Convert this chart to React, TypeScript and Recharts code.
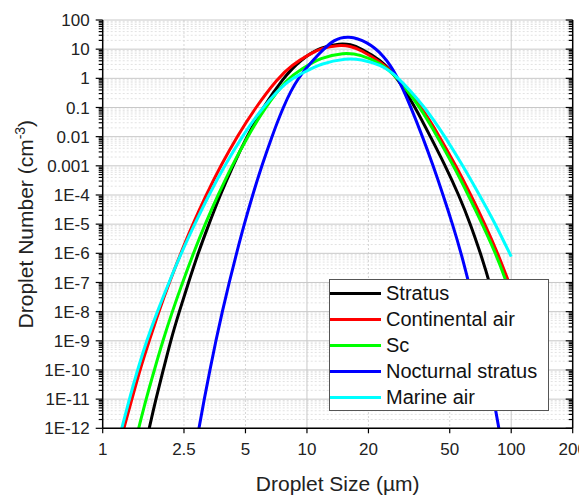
import { LineChart, Line, XAxis, YAxis, CartesianGrid, Legend } from 'recharts';

const FONT = '"Liberation Sans", Arial, sans-serif';

// axis ticks
const xTicks = [1, 2.5, 5, 10, 20, 50, 100, 200];
const xTickLabels = ['1', '2.5', '5', '10', '20', '50', '100', '200'];
const yTicks = [100, 10, 1, 0.1, 0.01, 0.001, 1e-4, 1e-5, 1e-6, 1e-7, 1e-8, 1e-9, 1e-10, 1e-11, 1e-12];
const yTickLabels = ['100', '10', '1', '0.1', '0.01', '0.001', '1E-4', '1E-5', '1E-6', '1E-7', '1E-8', '1E-9', '1E-10', '1E-11', '1E-12'];
const yMinorSteps = [2, 3, 4, 5, 6, 7, 8, 9];

// Stratus
const stratusSize = [1.69, 1.82, 1.98, 2.15, 2.37, 2.63, 2.93, 3.31, 3.76, 4.34, 5.08, 6.08, 7.63, 9.27, 11.7, 14.6, 16.3, 18.3, 22.9, 27.1, 34.0, 40.2, 47.6, 55.4, 63.2, 70.7, 77.7, 100];
const stratusNumber = [1e-12, 1e-11, 1e-10, 1e-9, 1e-8, 1e-7, 1e-6, 1e-5, 1e-4, 1e-3, 0.01, 0.1, 1, 4.3, 12.2, 15.7, 14.7, 10.7, 4.3, 1.3, 0.1, 0.01, 1e-3, 1e-4, 1e-5, 1e-6, 1.3e-7, 1.7e-10];

// Continental air
const continentalSize = [1.27, 1.39, 1.52, 1.69, 1.88, 2.12, 2.41, 2.76, 3.21, 3.78, 4.54, 5.6, 7.18, 8.45, 10.4, 11.7, 14.3, 16.3, 18.3, 22.9, 27.1, 36.6, 44.6, 53.6, 63.5, 74.3, 86.0, 100];
const continentalNumber = [1e-12, 1e-11, 1e-10, 1e-9, 1e-8, 1e-7, 1e-6, 1e-5, 1e-4, 1e-3, 0.01, 0.1, 1, 2.9, 7.0, 10.7, 13.9, 12.8, 9.4, 3.7, 1.3, 0.1, 0.01, 1e-3, 1e-4, 1e-5, 1e-6, 6.2e-8];

// Sc
const scSize = [1.5, 1.63, 1.79, 1.97, 2.19, 2.46, 2.78, 3.17, 3.67, 4.29, 5.12, 6.24, 8.03, 9.27, 11.7, 15.1, 18.3, 22.9, 27.1, 35.9, 43.5, 52.2, 61.6, 72.2, 83.8, 93.8, 100];
const scNumber = [1e-12, 1e-11, 1e-10, 1e-9, 1e-8, 1e-7, 1e-6, 1e-5, 1e-4, 1e-3, 0.01, 0.1, 1, 1.95, 5.2, 7.6, 6.6, 3.3, 1.3, 0.1, 0.01, 1e-3, 1e-4, 1e-5, 1e-6, 1.3e-7, 3e-8];

// Nocturnal stratus
const nocturnalSize = [2.96, 3.14, 3.35, 3.58, 3.85, 4.16, 4.52, 4.93, 5.42, 6.01, 6.73, 7.63, 8.9, 11.7, 13.5, 16.0, 19.7, 23.7, 27.6, 32.3, 36.8, 41.5, 46.4, 51.6, 56.9, 61.9, 67.0, 72.0, 77.1, 82.1, 87.0];
const nocturnalNumber = [1e-12, 1e-11, 1e-10, 1e-9, 1e-8, 1e-7, 1e-6, 1e-5, 1e-4, 1e-3, 0.01, 0.1, 1, 8.2, 21.5, 29, 18, 6.3, 1.3, 0.1, 0.01, 1e-3, 1e-4, 1e-5, 1e-6, 1e-7, 1e-8, 1e-9, 1e-10, 1e-11, 1e-12];

// Marine air
const marineSize = [1.24, 1.35, 1.48, 1.64, 1.85, 2.11, 2.42, 2.82, 3.31, 3.95, 4.81, 6.04, 8.12, 9.27, 11.7, 15.7, 18.3, 22.9, 27.1, 38.0, 47.4, 58.0, 69.9, 83.8, 100];
const marineNumber = [1e-12, 1e-11, 1e-10, 1e-9, 1e-8, 1e-7, 1e-6, 1e-5, 1e-4, 1e-3, 0.01, 0.1, 0.9, 1.35, 3.3, 4.9, 4.5, 2.9, 1.4, 0.1, 0.01, 1e-3, 1e-4, 1e-5, 7.7e-7];

const toPoints = (xs: number[], ys: number[]) => xs.map((x, i) => ({ x, y: ys[i] }));

const series = [
    { name: 'Stratus', color: '#000000', data: toPoints(stratusSize, stratusNumber) },
    { name: 'Continental air', color: '#ff0000', data: toPoints(continentalSize, continentalNumber) },
    { name: 'Sc', color: '#00ff00', data: toPoints(scSize, scNumber) },
    { name: 'Nocturnal stratus', color: '#0000ff', data: toPoints(nocturnalSize, nocturnalNumber) },
    { name: 'Marine air', color: '#00ffff', data: toPoints(marineSize, marineNumber) },
];

const yMinor = yTicks.slice(1).flatMap((d) => yMinorSteps.map((m) => m * d));
const yAllTicks = [...yTicks, ...yMinor];

const majorIndex = (v: number) => yTicks.findIndex((t) => Math.abs(Math.log10(t) - Math.log10(v)) < 1e-6);

function LeftTick({ x, y, payload }: any) {
    const i = majorIndex(payload.value);
    return (
        <g>
            <line x1={x - (i >= 0 ? 7 : 4)} x2={x} y1={y} y2={y} stroke="#000" strokeWidth={1.2} />
            {i >= 0 && (
                <text x={x - 13} y={y} dy="0.36em" textAnchor="end" fontSize={17} fill="#222" fontFamily={FONT}>
                    {yTickLabels[i]}
                </text>
            )}
        </g>
    );
}

function RightTick({ x, y, payload }: any) {
    const i = majorIndex(payload.value);
    return <line x1={x - (i >= 0 ? 7 : 4)} x2={x} y1={y} y2={y} stroke="#000" strokeWidth={1.2} />;
}

function BottomTick({ x, y, payload }: any) {
    const i = xTicks.indexOf(payload.value);
    return (
        <g>
            <line x1={x} x2={x} y1={y} y2={y + 5} stroke="#000" strokeWidth={1.2} />
            <text x={x} y={y + 27} textAnchor="middle" fontSize={17} fill="#222" fontFamily={FONT}>
                {xTickLabels[i]}
            </text>
        </g>
    );
}

function TopTick({ x, y }: any) {
    return <line x1={x} x2={x} y1={y} y2={y + 5} stroke="#000" strokeWidth={1.2} />;
}

function XTitle({ viewBox }: any) {
    return (
        <text x={viewBox.x + viewBox.width / 2} y={viewBox.y + 62.4} textAnchor="middle" fontSize={21} fill="#222" fontFamily={FONT}>
            Droplet Size (µm)
        </text>
    );
}

function YTitle({ viewBox }: any) {
    const cx = viewBox.x + 25;
    const cy = viewBox.y + viewBox.height / 2;
    return (
        <text x={cx} y={cy} textAnchor="middle" fontSize={21} fill="#222" fontFamily={FONT} transform={`rotate(-90 ${cx} ${cy})`}>
            Droplet Number (cm
            <tspan fontSize={14} dy={-8}>-3</tspan>
            <tspan dy={8}>)</tspan>
        </text>
    );
}

function LegendBox({ payload }: any) {
    return (
        <div style={{ background: '#fff', border: '1px solid #555', width: 220, boxSizing: 'border-box', fontFamily: FONT }}>
            {(payload ?? []).map((p: any) => (
                <div key={p.value} style={{ display: 'flex', alignItems: 'center', height: 26 }}>
                    <span style={{ display: 'inline-block', width: 51, height: 3, background: p.color, marginRight: 5 }} />
                    <span style={{ fontSize: 20, color: '#111', whiteSpace: 'nowrap' }}>{p.value}</span>
                </div>
            ))}
        </div>
    );
}

const legendOrder = (item: any) => series.findIndex((s) => s.name === item.value);

export default function App() {
    return (
        <div style={{ width: 579, height: 488, fontFamily: FONT }}>
            <LineChart width={579} height={488} margin={{ top: 12, right: 0, bottom: 0, left: 0 }}>
                <CartesianGrid horizontalValues={yMinor} vertical={false} stroke="#e2e2e2" strokeDasharray="2 2" />
                <CartesianGrid horizontal={false} verticalValues={[2.5, 5, 20, 50]} stroke="#d6d6d6" strokeDasharray="2 2" />
                <CartesianGrid horizontalValues={yTicks} verticalValues={[10, 100]} stroke="#c8c8c8" />
                <XAxis
                    dataKey="x"
                    type="number"
                    scale="log"
                    domain={[1, 200]}
                    ticks={xTicks}
                    interval={0}
                    allowDataOverflow
                    height={67.7}
                    tickSize={0}
                    tickMargin={0}
                    tickLine={false}
                    tick={<BottomTick />}
                    axisLine={{ stroke: '#000', strokeWidth: 1.5 }}
                    label={<XTitle />}
                />
                <XAxis
                    xAxisId="top"
                    orientation="top"
                    dataKey="x"
                    type="number"
                    scale="log"
                    domain={[1, 200]}
                    ticks={xTicks}
                    interval={0}
                    allowDataOverflow
                    height={0}
                    tickSize={0}
                    tickMargin={0}
                    tickLine={false}
                    tick={<TopTick />}
                    axisLine={{ stroke: '#888', strokeWidth: 1.5 }}
                />
                <YAxis
                    type="number"
                    scale="log"
                    domain={[1e-12, 100]}
                    ticks={yAllTicks}
                    interval={0}
                    allowDataOverflow
                    width={94.7}
                    tickSize={0}
                    tickMargin={0}
                    tickLine={false}
                    tick={<LeftTick />}
                    axisLine={{ stroke: '#000', strokeWidth: 1.5 }}
                    label={<YTitle />}
                />
                <YAxis
                    yAxisId="right"
                    orientation="right"
                    type="number"
                    scale="log"
                    domain={[1e-12, 100]}
                    ticks={yAllTicks}
                    interval={0}
                    allowDataOverflow
                    width={14.3}
                    tickSize={0}
                    tickMargin={0}
                    tickLine={false}
                    tick={<RightTick />}
                    axisLine={{ stroke: '#000', strokeWidth: 1.5 }}
                />
                {series.map((s) => (
                    <Line
                        key={s.name}
                        data={s.data}
                        dataKey="y"
                        name={s.name}
                        type="basis"
                        stroke={s.color}
                        strokeWidth={3}
                        dot={false}
                        activeDot={false}
                        isAnimationActive={false}
                    />
                ))}
                <Legend
                    layout="vertical"
                    align="center"
                    verticalAlign="middle"
                    itemSorter={legendOrder}
                    content={<LegendBox />}
                    wrapperStyle={{ left: 321, top: 271.3, width: 220 }}
                />
            </LineChart>
        </div>
    );
}
